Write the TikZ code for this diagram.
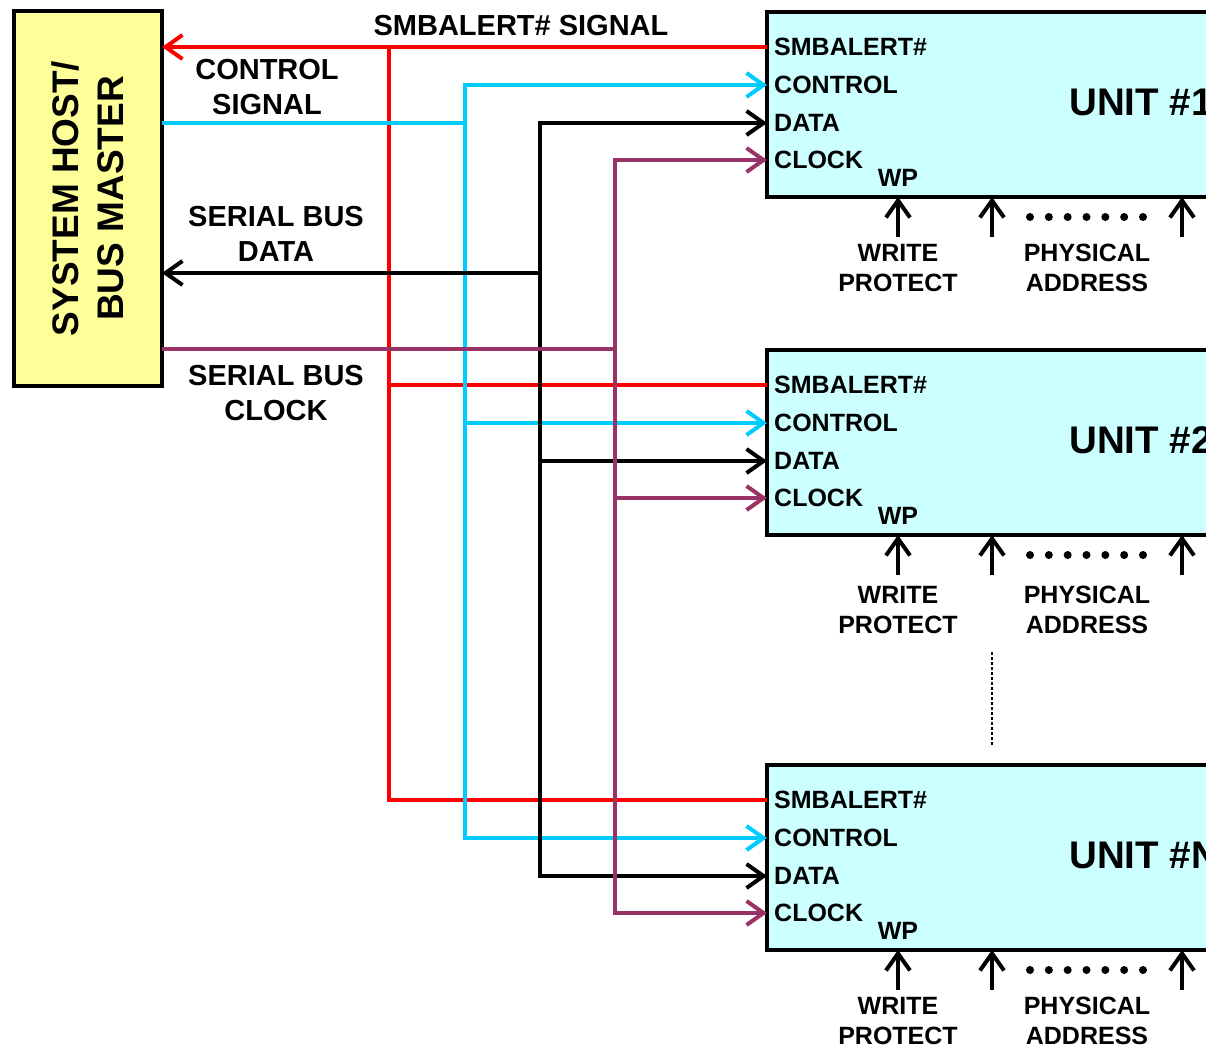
\documentclass[tikz,border=0pt]{standalone}
\usepackage{fontspec}
\setmainfont{Liberation Sans}
\usetikzlibrary{arrows.meta}
\definecolor{alertred}{RGB}{255,0,0}
\definecolor{ctrlcyan}{RGB}{0,204,255}
\definecolor{clkpurple}{RGB}{153,51,102}
\definecolor{hostfill}{RGB}{255,255,153}
\definecolor{unitfill}{RGB}{204,255,255}
\begin{document}
\begin{tikzpicture}[x=1pt,y=-1pt,
  wire/.style={line width=4pt},
  barb/.tip={Straight Barb[length=17pt,width=24pt]},
  hostbox/.style={draw,line width=4pt,fill=hostfill,outer sep=0pt,inner sep=0pt,
    minimum width=148pt,minimum height=375pt},
  unitbox/.style={draw,line width=4pt,fill=unitfill,outer sep=0pt,inner sep=0pt,
    anchor=north west,minimum width=520pt,minimum height=185pt},
  hostlbl/.style={rotate=90,align=center,font=\fontsize{37}{45}\selectfont\bfseries},
  buslbl/.style={align=center,inner sep=0pt,font=\fontsize{29}{35}\selectfont\bfseries},
  pinlbl/.style={anchor=west,inner sep=0pt,text height=17.9pt,text depth=0pt,
    font=\fontsize{25}{30}\selectfont\bfseries},
  sublbl/.style={align=center,inner sep=0pt,font=\fontsize{25}{30}\selectfont\bfseries},
  unitlbl/.style={anchor=west,inner sep=0pt,text height=27.6pt,text depth=0pt,
    font=\fontsize{38.5}{46}\selectfont\bfseries},
]
\useasboundingbox (0,0) rectangle (1206,1047);
\begin{scope}
\clip (0,0) rectangle (1206,1047);

% host controller
\node[hostbox] (host) at (88,198.5) {};
\node[hostlbl] (hosttext) at (host.center) {SYSTEM HOST/\\BUS MASTER};
\coordinate (h-alert) at (162,47);
\coordinate (h-ctl)   at (162,123);
\coordinate (h-data)  at (162,273);
\coordinate (h-clk)   at (162,349);

% vertical bus rails
\coordinate (alertbus) at (389,0);
\coordinate (ctlbus)   at (465,0);
\coordinate (databus)  at (540,0);
\coordinate (clkbus)   at (615,0);

% slave units with their pins
\foreach \u/\top/\name/\lo in {u1/12/1/71, u2/350/2/75, uN/765/N/71} {
  \node[unitbox] (\u) at (767,\top) {};
  \coordinate (\u-alert) at (767,{\top+35});
  \coordinate (\u-ctl)   at (767,{\top+73});
  \coordinate (\u-data)  at (767,{\top+111});
  \coordinate (\u-clk)   at (767,{\top+148});
  \node[pinlbl] (\u-lalert) at (774,{\top+35})  {SMBALERT\#};
  \node[pinlbl] (\u-lctl)   at (774,{\top+73})  {CONTROL};
  \node[pinlbl] (\u-ldata)  at (774,{\top+111}) {DATA};
  \node[pinlbl] (\u-lclk)   at (774,{\top+148}) {CLOCK};
  \node[pinlbl,anchor=center] (\u-lwp) at (898,{\top+166}) {WP};
  \node[unitlbl] (\u-name) at (1069,{\top+90}) {UNIT \#\name};
  % write protect and address straps
  \foreach \px/\pn in {898/wp, 992/a0, 1182/an} {
    \coordinate (\u-\pn) at (\px,{\top+185});
    \coordinate (\u-\pn-s) at (\px,{\top+225});
    \draw[wire,-barb] (\u-\pn-s) -- (\u-\pn);
  }
  \foreach \k in {0,...,6}
    \fill ({1030+\k*18.83},{\top+205}) circle (4pt);
  \node[sublbl] (\u-lwprot) at (898,{\top+185+\lo}) {WRITE\\PROTECT};
  \node[sublbl] (\u-laddr)  at (1087,{\top+185+\lo}) {PHYSICAL\\ADDRESS};
}

% more units in between
\draw[line width=2.5pt,dash pattern=on 2.5pt off 2.5pt] (992,652) -- (992,745);

% SMBALERT# line
\draw[wire,alertred,barb-] (h-alert) -- (u1-alert);
\draw[wire,alertred] (alertbus |- u1-alert) -- (alertbus |- uN-alert) -- (uN-alert);
\draw[wire,alertred] (alertbus |- u2-alert) -- (u2-alert);

% control line
\draw[wire,ctrlcyan] (h-ctl) -- (ctlbus |- h-ctl);
\draw[wire,ctrlcyan,barb-barb] (u1-ctl) -- (ctlbus |- u1-ctl) -- (ctlbus |- uN-ctl) -- (uN-ctl);
\draw[wire,ctrlcyan,-barb] (ctlbus |- u2-ctl) -- (u2-ctl);

% serial data line
\draw[wire,black,barb-] (h-data) -- (databus |- h-data);
\draw[wire,black,barb-barb] (u1-data) -- (databus |- u1-data) -- (databus |- uN-data) -- (uN-data);
\draw[wire,black,-barb] (databus |- u2-data) -- (u2-data);

% serial clock line
\draw[wire,clkpurple] (h-clk) -- (clkbus |- h-clk);
\draw[wire,clkpurple,barb-barb] (u1-clk) -- (clkbus |- u1-clk) -- (clkbus |- uN-clk) -- (uN-clk);
\draw[wire,clkpurple,-barb] (clkbus |- u2-clk) -- (u2-clk);

% line labels
\node[buslbl] (lalert) at (521,26) {SMBALERT\# SIGNAL};
\node[buslbl] (lctl)   at (267,87.5) {CONTROL\\SIGNAL};
\node[buslbl] (ldata)  at (276,233.5) {SERIAL BUS\\DATA};
\node[buslbl] (lclk)   at (276,393.5) {SERIAL BUS\\CLOCK};
\end{scope}
\end{tikzpicture}
\end{document}
